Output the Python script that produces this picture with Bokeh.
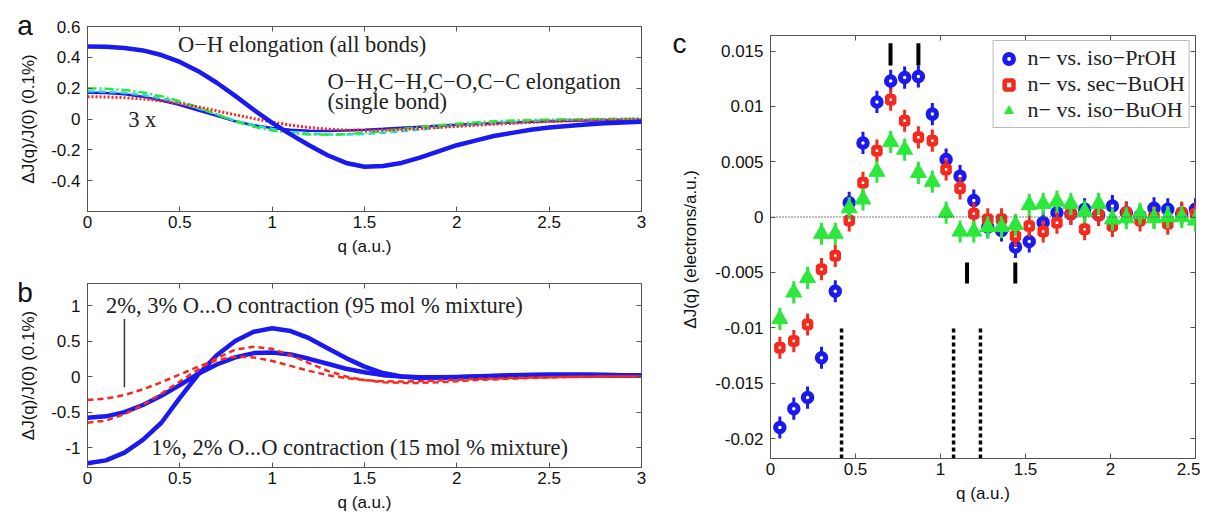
from bokeh.plotting import figure
from bokeh.models import (Range1d, LinearAxis, Label, FixedTicker, Legend,
                          LegendItem, Span)
from bokeh.layouts import row, column
from bokeh.embed import file_html
from bokeh.resources import INLINE

# ---------------- panel a data (theory curves) ----------
q_curve = [0.0, 0.1, 0.2, 0.3, 0.4, 0.5, 0.6, 0.7, 0.8, 0.9, 1.0,
           1.1, 1.2, 1.3, 1.4, 1.5, 1.6, 1.7, 1.8, 1.9, 2.0,
           2.1, 2.2, 2.3, 2.4, 2.5, 2.6, 2.7, 2.8, 2.9, 3.0]
a_oh_all = [0.47, 0.468, 0.46, 0.445, 0.415, 0.37, 0.31, 0.235, 0.15, 0.06, -0.025,
            -0.10, -0.17, -0.235, -0.285, -0.31, -0.305, -0.285, -0.25, -0.21, -0.17,
            -0.14, -0.11, -0.09, -0.07, -0.055, -0.045, -0.035, -0.028, -0.022, -0.018]
a_single_blue = [0.17, 0.168, 0.16, 0.145, 0.12, 0.09, 0.055, 0.02, -0.015, -0.04, -0.058,
                 -0.07, -0.077, -0.078, -0.075, -0.07, -0.064, -0.057, -0.05, -0.043, -0.037,
                 -0.032, -0.027, -0.022, -0.018, -0.015, -0.012, -0.01, -0.008, -0.006, -0.005]
a_single_green = [0.20, 0.197, 0.188, 0.172, 0.148, 0.115, 0.075, 0.03, -0.015, -0.05, -0.075,
                  -0.092, -0.10, -0.102, -0.098, -0.09, -0.078, -0.065, -0.052, -0.04, -0.03,
                  -0.022, -0.015, -0.01, -0.006, -0.003, -0.002, -0.001, 0.0, 0.0, 0.0]
a_single_cyan = [0.18, 0.177, 0.17, 0.155, 0.135, 0.105, 0.07, 0.03, -0.01, -0.04, -0.065,
                 -0.083, -0.095, -0.10, -0.10, -0.097, -0.09, -0.08, -0.068, -0.056, -0.045,
                 -0.035, -0.026, -0.019, -0.013, -0.008, -0.005, -0.003, -0.001, 0.0, 0.0]
a_single_red = [0.145, 0.143, 0.138, 0.13, 0.117, 0.10, 0.078, 0.053, 0.027, 0.003, -0.02,
                -0.04, -0.055, -0.066, -0.072, -0.074, -0.072, -0.068, -0.062, -0.055, -0.048,
                -0.041, -0.034, -0.028, -0.022, -0.017, -0.013, -0.009, -0.006, -0.003, -0.001]

# ---------------- panel b data -------------------------------------------
b_blue_15mol_2 = [-1.22, -1.18, -1.07, -0.89, -0.65, -0.30, 0.03, 0.30, 0.50, 0.63, 0.68,
                  0.64, 0.54, 0.40, 0.26, 0.14, 0.05, 0.0, -0.02, -0.02, -0.01,
                  0.0, 0.01, 0.02, 0.025, 0.03, 0.03, 0.03, 0.025, 0.02, 0.02]
b_blue_15mol_1 = [-0.58, -0.56, -0.50, -0.40, -0.27, -0.12, 0.04, 0.17, 0.27, 0.33, 0.34,
                  0.31, 0.25, 0.18, 0.11, 0.06, 0.02, 0.0, -0.01, -0.01, -0.005,
                  0.0, 0.005, 0.01, 0.015, 0.02, 0.02, 0.02, 0.015, 0.01, 0.01]
b_red_95mol_3 = [-0.65, -0.62, -0.53, -0.40, -0.24, -0.07, 0.10, 0.26, 0.38, 0.42, 0.39,
                 0.30, 0.19, 0.08, 0.0, -0.05, -0.08, -0.09, -0.09, -0.08, -0.065,
                 -0.05, -0.04, -0.03, -0.02, -0.013, -0.007, -0.003, 0.0, 0.0, 0.0]
b_red_95mol_2 = [-0.33, -0.31, -0.26, -0.18, -0.08, 0.03, 0.14, 0.23, 0.28, 0.27, 0.22,
                 0.15, 0.08, 0.02, -0.02, -0.05, -0.065, -0.07, -0.065, -0.055, -0.045,
                 -0.035, -0.027, -0.02, -0.014, -0.009, -0.005, -0.002, 0.0, 0.0, 0.0]
b_pointer_q = [0.2]
b_pointer_y = [-0.15, 0.81]

# ---------------- panel c data (measured points) -------------------------
q_c = [0.055, 0.137, 0.218, 0.300, 0.381, 0.463, 0.544, 0.626, 0.707, 0.789,
       0.870, 0.952, 1.033, 1.115, 1.196, 1.278, 1.359, 1.441, 1.522, 1.604,
       1.685, 1.767, 1.848, 1.930, 2.011, 2.093, 2.174, 2.256, 2.337, 2.419, 2.500]
c_pr_iso = [-0.0190, -0.0173, -0.0163, -0.0127, -0.0067, 0.0013, 0.0067, 0.0104, 0.0123, 0.0126,
            0.0127, 0.0093, 0.0052, 0.0037, 0.0015, -0.0009, -0.0012, -0.0027, -0.0022, -0.0005,
            0.0004, 0.0003, 0.0007, 0.0002, 0.0010, 0.0004, 0.0001, 0.0008, 0.0007, 0.0003, 0.0007]
c_bu_sec = [-0.0118, -0.0112, -0.0097, -0.0047, -0.0035, -0.0003, 0.0031, 0.0060, 0.0106, 0.0087,
            0.0072, 0.0069, 0.0043, 0.0026, 0.0003, -0.0002, -0.0002, -0.0017, -0.0008, -0.0013,
            -0.0005, 0.0003, -0.0011, 0.0002, -0.0008, 0.0004, -0.0003, 0.0000, -0.0006, 0.0004, 0.0003]
c_bu_iso = [-0.0092, -0.0068, -0.0055, -0.0015, -0.0015, 0.0008, 0.0016, 0.0041, 0.0068, 0.0061,
            0.0040, 0.0032, 0.0004, -0.0013, -0.0013, -0.0009, -0.0009, -0.0007, 0.0011, 0.0012,
            0.0014, 0.0012, 0.0005, 0.0012, -0.0002, -0.0001, 0.0003, -0.0001, 0.0000, 0.0000, -0.0003]
c_err = [0.0010, 0.0010, 0.0010]
c_series = ["n\u2212 vs. iso\u2212PrOH", "n\u2212 vs. sec\u2212BuOH", "n\u2212 vs. iso\u2212BuOH"]

peak_marks_q = [0.706, 0.870]
peak_marks_y = [0.0137, 0.0157]
dip_marks_q = [1.156, 1.440]
dip_marks_y = [-0.0060, -0.0041]
dash_marks_q = [0.418, 1.077, 1.235]
dash_marks_y = [-0.0218, -0.0100]

# tick labels
ab_xticks = [0, 0.5, 1, 1.5, 2, 2.5, 3]
ab_xlabels = ["0", "0.5", "1", "1.5", "2", "2.5", "3"]
a_yticks = [-0.4, -0.2, 0, 0.2, 0.4, 0.6]
a_ylabels = ["-0.4", "-0.2", "0", "0.2", "0.4", "0.6"]
b_yticks = [-1, -0.5, 0, 0.5, 1]
b_ylabels = ["-1", "-0.5", "0", "0.5", "1"]
c_xticks = [0, 0.5, 1, 1.5, 2, 2.5]
c_xlabels = ["0", "0.5", "1", "1.5", "2", "2.5"]
c_yticks = [-0.02, -0.015, -0.01, -0.005, 0, 0.005, 0.01, 0.015]
c_ylabels = ["-0.02", "-0.015", "-0.01", "-0.005", "0", "0.005", "0.01", "0.015"]

BLUE = "#1a1af0"
RED = "#f52a1e"
GREEN = "#2be83a"
CYAN = "#2ad8e0"
SANS = "Liberation Sans"
SERIF = "Liberation Serif"
FRAME = "#555555"
FS = "17px"


def style(p, xt, xl, yt, yl, xlabel, ylabel, ylab_standoff):
    p.xgrid.visible = False
    p.ygrid.visible = False
    p.outline_line_color = FRAME
    p.outline_line_width = 1
    p.background_fill_color = "white"
    p.border_fill_color = "white"
    for ax, ticks, labels in ((p.xaxis[0], xt, xl), (p.yaxis[0], yt, yl)):
        ax.ticker = FixedTicker(ticks=ticks)
        ax.major_label_overrides = {t: s for t, s in zip(ticks, labels)}
        ax.major_tick_in = 5
        ax.major_tick_out = 0
        ax.minor_tick_line_color = None
        ax.axis_line_color = FRAME
        ax.major_tick_line_color = FRAME
        ax.major_label_text_font = SANS
        ax.major_label_text_font_size = FS
        ax.major_label_text_color = "#111111"
        ax.axis_label_text_font = SANS
        ax.axis_label_text_font_style = "normal"
        ax.axis_label_text_font_size = FS
        ax.axis_label_text_color = "#111111"
    p.xaxis[0].axis_label = xlabel
    p.yaxis[0].axis_label = ylabel
    p.xaxis[0].major_label_standoff = 4
    p.xaxis[0].axis_label_standoff = 6
    p.yaxis[0].major_label_standoff = 7
    p.yaxis[0].axis_label_standoff = ylab_standoff
    # mirrored inward ticks on top and right (no labels)
    for side, ticks in (("above", xt), ("right", yt)):
        ax2 = LinearAxis(ticker=FixedTicker(ticks=ticks))
        ax2.major_tick_in = 5
        ax2.major_tick_out = 0
        ax2.minor_tick_line_color = None
        ax2.axis_line_color = None
        ax2.major_tick_line_color = FRAME
        ax2.major_label_overrides = {t: "" for t in ticks}
        ax2.major_label_text_font_size = "1px"
        ax2.major_label_text_color = None
        ax2.major_label_standoff = 0
        p.add_layout(ax2, side)


def panel_letter(p, letter, x, y):
    # placed in the left side panel so it is not clipped to the frame
    p.add_layout(Label(x=x, y=y, text=letter, text_font=SANS, text_font_size="28px",
                       text_baseline="alphabetic", text_align="left",
                       text_color="#111111"), "left")


def note(p, txt, x, y, size="22.5px"):
    p.add_layout(Label(x=x, y=y, text=txt, text_font=SERIF, text_font_size=size,
                       text_baseline="middle", text_align="left", text_color="#222222"))


# ---------------- panel a ------------------------------------------------
pa = figure(width=650, height=258, x_range=Range1d(0, 3), y_range=Range1d(-0.6, 0.6),
            min_border_left=83, min_border_right=9, min_border_top=26, min_border_bottom=47,
            output_backend="svg", toolbar_location=None)
style(pa, ab_xticks, ab_xlabels, a_yticks, a_ylabels,
      "q (a.u.)", "\u0394J(q)/J(0) (0.1%)", 10)
pa.line(q_curve, a_single_blue, line_color=BLUE, line_width=2.5)
pa.line(q_curve, a_single_cyan, line_color=CYAN, line_width=2.5, line_dash="7 4")
pa.line(q_curve, a_single_green, line_color=GREEN, line_width=2.5, line_dash="9 3 2 3")
pa.line(q_curve, a_single_red, line_color=RED, line_width=3, line_dash="2 2")
pa.line(q_curve, a_oh_all, line_color=BLUE, line_width=4.5)
note(pa, "O\u2212H elongation (all bonds)", 0.49, 0.485)
note(pa, "O\u2212H,C\u2212H,C\u2212O,C\u2212C elongation", 1.30, 0.245)
note(pa, "(single bond)", 1.30, 0.114)
note(pa, "3 x", 0.22, 0.0)
panel_letter(pa, "a", -0.38, 0.607)

# ---------------- panel b ------------------------------------------------
pb = figure(width=650, height=258, x_range=Range1d(0, 3), y_range=Range1d(-1.28, 1.31),
            min_border_left=83, min_border_right=9, min_border_top=25, min_border_bottom=49,
            output_backend="svg", toolbar_location=None)
style(pb, ab_xticks, ab_xlabels, b_yticks, b_ylabels,
      "q (a.u.)", "\u0394J(q)/J(0) (0.1%)", 10)
pb.line(q_curve, b_blue_15mol_2, line_color=BLUE, line_width=4.5)
pb.line(q_curve, b_blue_15mol_1, line_color=BLUE, line_width=4.5)
pb.line(q_curve, b_red_95mol_3, line_color=RED, line_width=2.5, line_dash="6 4")
pb.line(q_curve, b_red_95mol_2, line_color=RED, line_width=2.5, line_dash="6 4")
pb.segment(x0=b_pointer_q, y0=[b_pointer_y[0]], x1=b_pointer_q, y1=[b_pointer_y[1]],
           line_color="#333333", line_width=1.5)
note(pb, "2%, 3% O...O contraction (95 mol % mixture)", 0.10, 1.0)
note(pb, "1%, 2% O...O contraction (15 mol % mixture)", 0.345, -1.0)
panel_letter(pb, "b", -0.38, 1.183)

# ---------------- panel c ------------------------------------------------
pc = figure(width=550, height=516, x_range=Range1d(0, 2.5), y_range=Range1d(-0.0218, 0.0164),
            min_border_left=120, min_border_right=5, min_border_top=35, min_border_bottom=58,
            output_backend="svg", toolbar_location=None)
style(pc, c_xticks, c_xlabels, c_yticks, c_ylabels,
      "q (a.u.)", "\u0394J(q)  (electrons/a.u.)", 12)
pc.add_layout(Span(location=0, dimension="width", line_color="#555555",
                   line_dash="1 2", line_width=1.5))

series = [(c_pr_iso, BLUE, "circle", c_err[0]),
          (c_bu_sec, RED, "square", c_err[1]),
          (c_bu_iso, GREEN, "triangle", c_err[2])]
items = []
for (vals, col, mk, err), name in zip(series, c_series):
    lo = [v - err for v in vals]
    hi = [v + err for v in vals]
    pc.segment(x0=q_c, y0=lo, x1=q_c, y1=hi, line_color=col, line_width=3)
    if mk == "circle":
        r = pc.scatter(q_c, vals, marker="circle", size=8.5, fill_color="white",
                       line_color=col, line_width=5)
    elif mk == "square":
        r = pc.scatter(q_c, vals, marker="square", size=7, fill_color="white",
                       line_color=col, line_width=4.5)
    else:
        r = pc.scatter(q_c, vals, marker="triangle", size=16, fill_color=col,
                       line_color=col, line_width=1)
    items.append(LegendItem(label=name, renderers=[r]))

pc.segment(x0=peak_marks_q, y0=[peak_marks_y[0]] * len(peak_marks_q),
           x1=peak_marks_q, y1=[peak_marks_y[1]] * len(peak_marks_q),
           line_color="black", line_width=4)
pc.segment(x0=dip_marks_q, y0=[dip_marks_y[0]] * len(dip_marks_q),
           x1=dip_marks_q, y1=[dip_marks_y[1]] * len(dip_marks_q),
           line_color="black", line_width=4)
pc.segment(x0=dash_marks_q, y0=[dash_marks_y[0]] * len(dash_marks_q),
           x1=dash_marks_q, y1=[dash_marks_y[1]] * len(dash_marks_q),
           line_color="black", line_width=3.5, line_dash="4 3")

legend = Legend(items=items, location="top_right")
legend.label_text_font = SERIF
legend.label_text_font_size = "22px"
legend.label_text_color = "#222222"
legend.label_height = 25
legend.glyph_height = 25
legend.glyph_width = 22
legend.spacing = 0
legend.padding = 4
legend.margin = 5
legend.label_standoff = 8
legend.border_line_color = "#777777"
legend.border_line_width = 1
legend.background_fill_alpha = 1
pc.add_layout(legend)
panel_letter(pc, "c", -0.576, 0.0157)

layout = row(column(pa, pb), pc)
open("out.html", "w").write(file_html(layout, INLINE))
